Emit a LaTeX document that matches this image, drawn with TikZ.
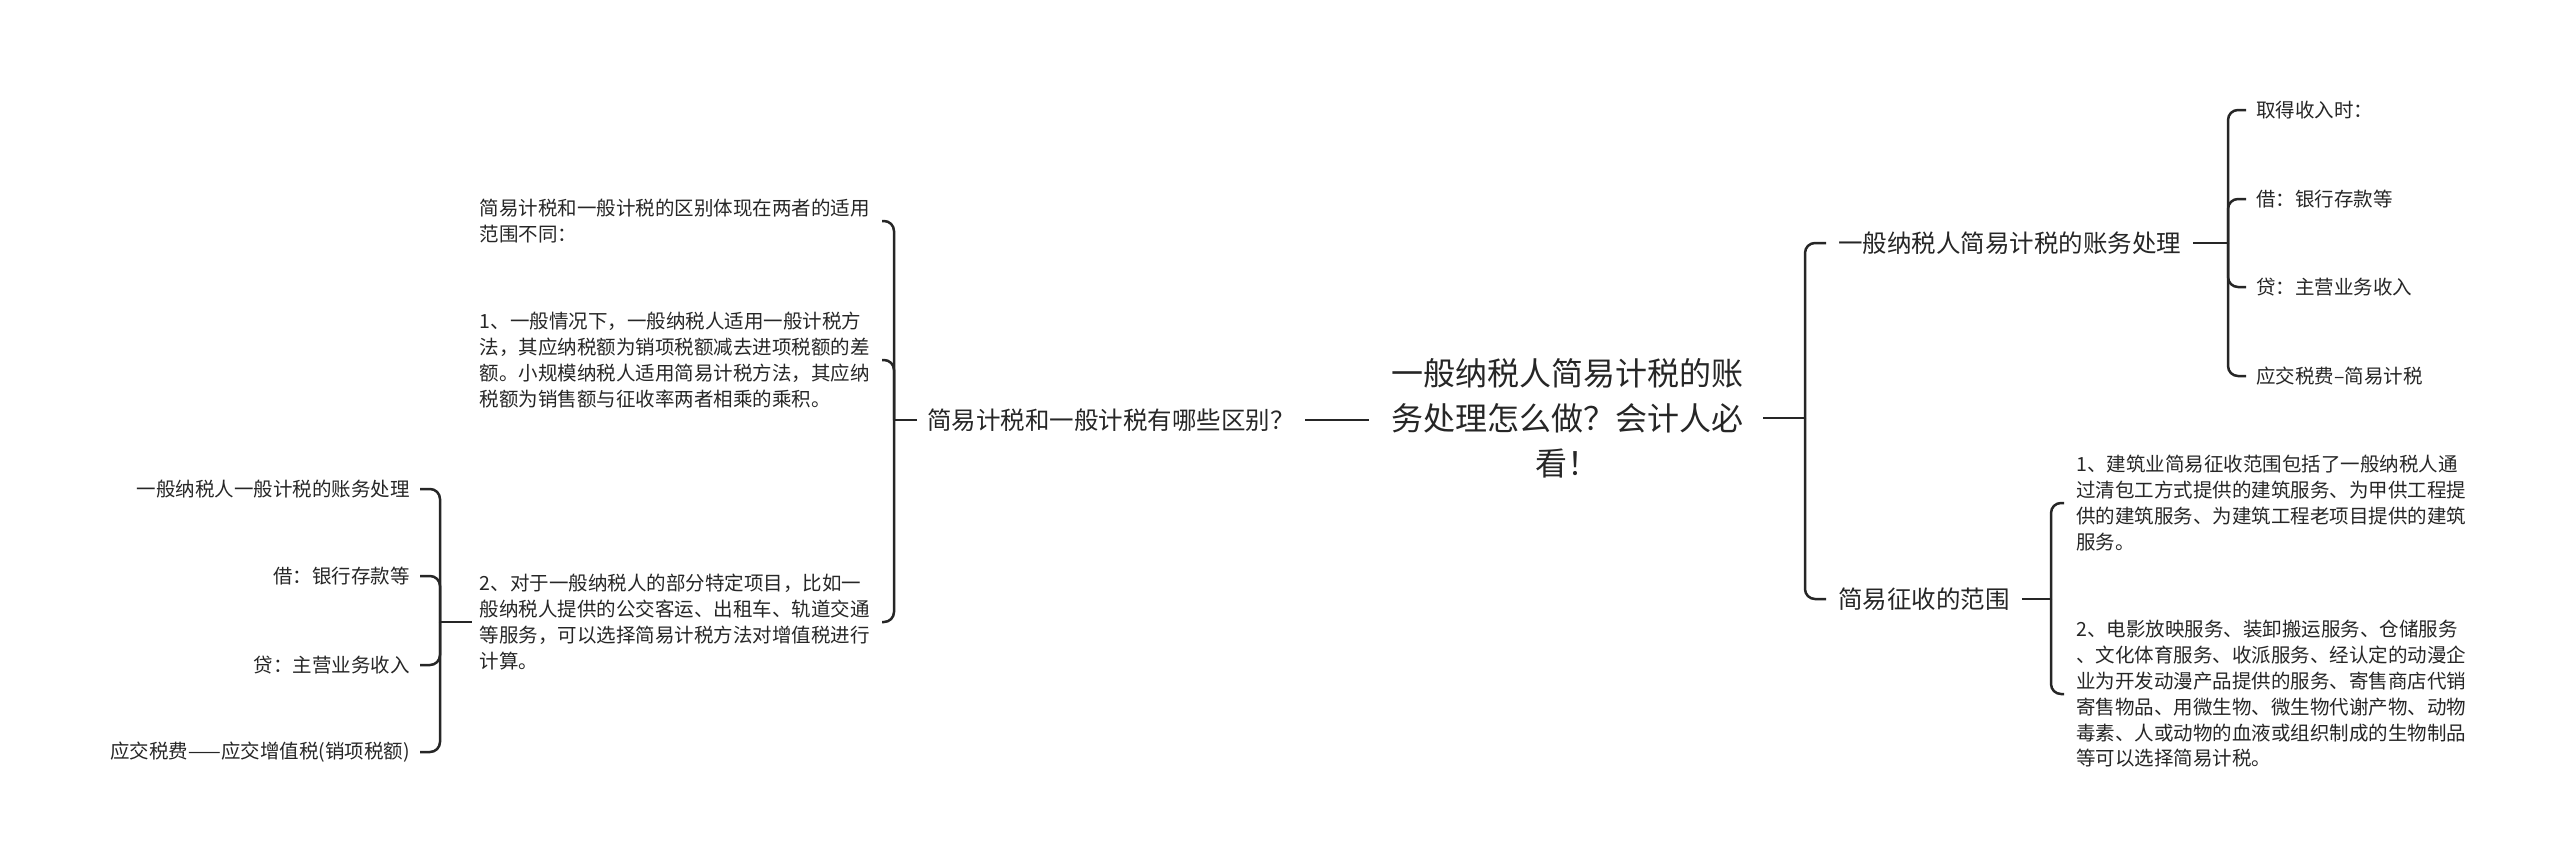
\documentclass[tikz,border=0pt]{standalone}
\usepackage{fontspec}
\setmainfont{Noto Sans CJK SC}
\begin{document}
\begin{tikzpicture}[x=1pt,y=-1pt,
  sm/.style={font=\fontsize{19.5}{25.8}\selectfont, align=left, inner sep=0pt, text=black!85},
  md/.style={font=\fontsize{24.5}{30}\selectfont, inner sep=0pt, text=black!85},
  rt/.style={font=\fontsize{32}{45}\selectfont, align=center, inner sep=0pt, text=black!85},
  ln/.style={line width=2.5pt, draw=black!85, rounded corners=10pt}]
\useasboundingbox (0,0) rectangle (2560,863);
\node[rt] (root) at (1567,418) {一般纳税人简易计税的账\\务处理怎么做？会计人必\\看！};
% left
\node[md, anchor=west] (L) at (927,420) {简易计税和一般计税有哪些区别？};
\node[sm, anchor=east] (l1) at (870,221) {简易计税和一般计税的区别体现在两者的适用\\范围不同：};
\node[sm, anchor=east] (l2) at (870,360) {1、一般情况下，一般纳税人适用一般计税方\\法，其应纳税额为销项税额减去进项税额的差\\额。小规模纳税人适用简易计税方法，其应纳\\税额为销售额与征收率两者相乘的乘积。};
\node[sm, anchor=east] (l3) at (870,622) {2、对于一般纳税人的部分特定项目，比如一\\般纳税人提供的公交客运、出租车、轨道交通\\等服务，可以选择简易计税方法对增值税进行\\计算。};
\node[sm, anchor=east] (f1) at (410,489) {一般纳税人一般计税的账务处理};
\node[sm, anchor=east] (f2) at (410,576) {借：银行存款等};
\node[sm, anchor=east] (f3) at (410,665) {贷：主营业务收入};
\node[sm, anchor=east] (f4) at (410,752) {应交税费——应交增值税(销项税额)};
% right
\node[md, anchor=west] (R1) at (1838,243) {一般纳税人简易计税的账务处理};
\node[md, anchor=west] (R2) at (1838,599) {简易征收的范围};
\node[sm, anchor=west] (r1) at (2256,110) {取得收入时：};
\node[sm, anchor=west] (r2) at (2256,199) {借：银行存款等};
\node[sm, anchor=west] (r3) at (2256,287) {贷：主营业务收入};
\node[sm, anchor=west] (r4) at (2256,376) {应交税费–简易计税};
\node[sm, anchor=west] (s1) at (2076,503) {1、建筑业简易征收范围包括了一般纳税人通\\过清包工方式提供的建筑服务、为甲供工程提\\供的建筑服务、为建筑工程老项目提供的建筑\\服务。};
\node[sm, anchor=west] (s2) at (2076,694) {2、电影放映服务、装卸搬运服务、仓储服务\\、文化体育服务、收派服务、经认定的动漫企\\业为开发动漫产品提供的服务、寄售商店代销\\寄售物品、用微生物、微生物代谢产物、动物\\毒素、人或动物的血液或组织制成的生物制品\\等可以选择简易计税。};
% connectors
\draw[ln] ([xshift=-22]root.west |- L.east) -- ([xshift=10]L.east);
\draw[ln] ([xshift=-10]L.west) -- (894,420);
\foreach \c in {l1,l2,l3} \draw[ln] (894,420) |- ([xshift=12]\c.east);
\draw[ln] ([xshift=-8]l3.west) -- (440,622);
\foreach \c in {f1,f2,f3,f4} \draw[ln] (440,622) |- ([xshift=10]\c.east);
\draw[ln] ([xshift=20]root.east |- 0,418) -- (1805,418);
\foreach \c in {R1,R2} \draw[ln] (1805,418) |- ([xshift=-12]\c.west);
\draw[ln] ([xshift=12]R1.east) -- (2228,243);
\foreach \c in {r1,r2,r3,r4} \draw[ln] (2228,243) |- ([xshift=-10]\c.west);
\draw[ln] ([xshift=12]R2.east) -- (2051,599);
\foreach \c in {s1,s2} \draw[ln] (2051,599) |- ([xshift=-12]\c.west);
\end{tikzpicture}
\end{document}
